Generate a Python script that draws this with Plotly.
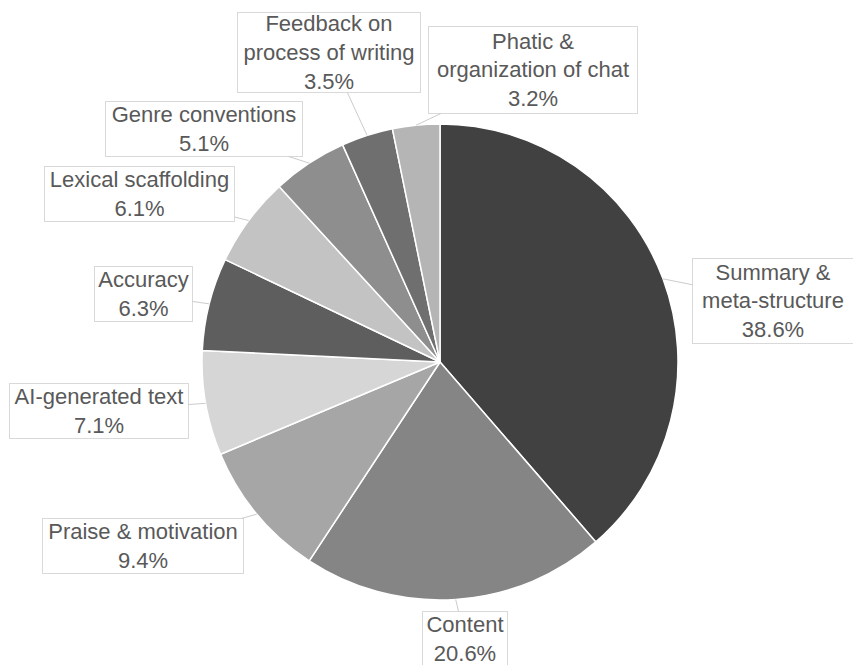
import math
import plotly.graph_objects as go

# Category shares (percent), listed clockwise from 12 o'clock
categories = [
    "Summary &<br>meta-structure",
    "Content",
    "Praise & motivation",
    "AI-generated text",
    "Accuracy",
    "Lexical scaffolding",
    "Genre conventions",
    "Feedback on<br>process of writing",
    "Phatic &<br>organization of chat",
]
shares = [38.6, 20.6, 9.4, 7.1, 6.3, 6.1, 5.1, 3.5, 3.2]
colors = ["#414141", "#858585", "#a6a6a6", "#d6d6d6", "#5e5e5e",
          "#c3c3c3", "#8e8e8e", "#6f6f6f", "#b5b5b5"]

# Label box layout: centre (px) and size (px) for each callout
box_centers = [(773, 301), (465, 639), (143, 546), (99, 411), (143.5, 294.5),
               (139.5, 194), (204, 129), (329, 52.5), (533, 70)]
box_sizes = [(162, 86), (86, 56), (202, 56), (180, 56), (99, 56),
             (191, 56), (198, 56), (184, 81), (210, 88)]

W, H = 853, 665
cx, cy, r = 440, 362, 238  # pie centre and radius in pixels

fig = go.Figure(go.Pie(
    labels=[c.replace("<br>", " ") for c in categories],
    values=shares,
    sort=False,
    direction="clockwise",
    rotation=0,
    marker=dict(colors=colors, line=dict(color="white", width=1.5)),
    textinfo="none",
    hoverinfo="label+percent",
    showlegend=False,
    domain=dict(x=[(cx - r) / W, (cx + r) / W],
                y=[1 - (cy + r) / H, 1 - (cy - r) / H]),
))

total = sum(shares)
annotations = []
cum = 0.0
pad = 2
for name, val, (bx, by), (bw, bh) in zip(categories, shares, box_centers, box_sizes):
    mid = (cum + val / 2) / total * 2 * math.pi
    cum += val
    tx = cx + r * math.sin(mid)
    ty = cy - r * math.cos(mid)
    annotations.append(dict(
        x=tx / W, y=1 - ty / H, xref="paper", yref="paper",
        ax=bx - tx, ay=by - ty, axref="pixel", ayref="pixel",
        text=f"{name}<br>{val:.1f}%",
        showarrow=True, arrowhead=0, arrowwidth=1, arrowcolor="#cccccc",
        standoff=0,
        font=dict(family="Arial, Liberation Sans, sans-serif", size=22, color="#595959"),
        align="center",
        bgcolor="white", bordercolor="#d9d9d9", borderwidth=1, borderpad=pad,
        width=bw - 2 * pad - 2, height=bh - 2 * pad - 2,
    ))

fig.update_layout(
    width=W, height=H,
    margin=dict(l=0, r=0, t=0, b=0),
    paper_bgcolor="white",
    plot_bgcolor="white",
    annotations=annotations,
)

fig.write_html("out.html")
